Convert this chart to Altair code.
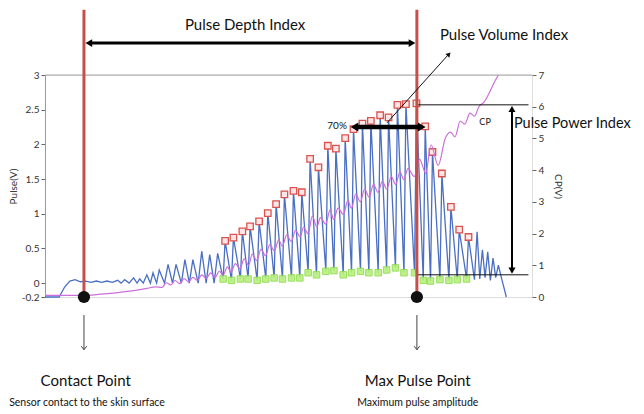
import altair as alt
import pandas as pd

FONT = "Lato"

# ---------------- data ----------------
# pulse waveform before detected beats (time s, pulse V)
early_t = [0.0, 1.6, 2.2, 2.8, 3.4, 4.0, 4.6, 5.2, 5.8, 6.4, 7.0, 7.6, 8.2, 8.6, 9.0, 9.5, 10.0, 10.4, 10.7, 11.1,
           11.5, 11.9, 12.2, 12.6, 12.9, 13.5, 13.9, 14.4, 14.8, 15.4, 15.8, 16.3, 16.7, 17.3, 17.7, 18.2, 18.6, 19.1, 19.5]
early_v = [-0.2, -0.2, -0.06, 0.03, 0.05, 0.02, 0.03, 0.01, 0.03, 0.01, 0.03, 0.01, 0.04, 0.0, 0.05, 0.0, 0.075, 0.0, 0.06, 0.0,
           0.12, 0.0, 0.15, 0.0, 0.19, 0.0, 0.27, 0.0, 0.27, 0.0, 0.34, 0.0, 0.34, 0.0, 0.46, 0.0, 0.41, 0.0, 0.43]

# detected beats: peaks (red squares) and troughs (green squares)
peak_t = [20.34, 21.28, 22.29, 23.16, 24.18, 25.16, 26.10, 27.04, 28.06, 29.00,
          29.94, 30.88, 31.94, 32.85, 33.90, 34.84, 35.85, 36.80, 37.85, 38.80,
          39.80, 40.76, 41.95, 42.94, 43.76, 44.82, 45.84, 46.78, 47.83]
peak_v = [0.61, 0.655, 0.745, 0.817, 0.889, 1.01, 1.14, 1.28, 1.33, 1.31,
          1.79, 1.67, 1.98, 1.94, 2.09, 2.22, 2.30, 2.34, 2.42, 2.39,
          2.57, 2.58, 2.59, 2.26, 1.89, 1.58, 1.10, 0.77, 0.665]
trough_t = [20.12, 21.06, 22.07, 22.94, 23.96, 24.94, 25.88, 26.82, 27.84, 28.78,
            29.72, 30.66, 31.72, 32.63, 33.68, 34.62, 35.63, 36.58, 37.63, 38.58,
            39.58, 40.54, 41.73, 42.72, 43.54, 44.60, 45.62, 46.56, 47.61]
trough_v = [0.06, 0.04, 0.06, 0.06, 0.04, 0.06, 0.075, 0.06, 0.075, 0.075,
            0.15, 0.12, 0.17, 0.18, 0.12, 0.15, 0.17, 0.15, 0.15, 0.19,
            0.22, 0.15, 0.15, 0.04, 0.03, 0.05, 0.04, 0.05, 0.06]

# waveform after the last detected beat
late_t = [48.5, 48.8, 49.1, 49.4, 49.7, 50.0, 50.3, 50.6, 50.9, 51.2, 51.6, 52.1]
late_v = [0.05, 0.74, 0.06, 0.48, 0.08, 0.45, 0.04, 0.36, 0.08, 0.26, 0.05, -0.2]

# contact pressure CP (V), right axis
cp_t = [0.0, 4.4, 6.0, 8.0, 10.0, 11.5, 12.5, 13.2, 13.7, 14.2, 14.7, 15.2, 15.7, 16.2, 16.7, 17.2, 17.7,
        18.2, 18.7, 19.2, 19.7, 20.1, 20.6, 21.0, 21.5, 22.0, 22.5, 23.0, 23.4, 23.9, 24.4, 24.9, 25.4, 25.9,
        26.4, 26.8, 27.3, 27.8, 28.3, 28.8, 29.2, 29.7, 30.2, 30.7, 31.1, 31.7, 32.2, 32.6, 33.1, 33.7, 34.2,
        34.6, 35.1, 35.6, 36.1, 36.6, 37.1, 37.6, 38.1, 38.6, 39.1, 39.6, 40.1, 40.5, 41.0, 41.7, 42.3, 43.0,
        43.6, 44.4, 45.2, 45.8, 46.3, 46.9, 47.4, 48.0, 48.5, 49.0, 49.6, 50.2, 50.8, 51.2]
cp_v = [0.05, 0.05, 0.08, 0.13, 0.2, 0.27, 0.32, 0.30, 0.45, 0.38, 0.52, 0.42, 0.58, 0.48, 0.62, 0.52, 0.70,
        0.58, 0.76, 0.62, 0.82, 0.68, 0.95, 0.78, 1.05, 0.9, 1.2, 1.0, 1.35, 1.15, 1.5, 1.3, 1.65, 1.45,
        1.8, 1.6, 1.95, 1.75, 2.1, 1.9, 2.2, 2.0, 2.55, 2.2, 2.5, 2.3, 2.75, 2.45, 2.8, 2.6, 3.05,
        2.8, 3.25, 3.0, 3.4, 3.15, 3.55, 3.3, 3.65, 3.4, 3.8, 3.55, 3.95, 3.7, 4.05, 3.8, 4.35, 3.9,
        4.8, 4.15, 5.0, 5.2, 5.05, 5.55, 5.45, 5.8, 5.7, 6.0, 6.15, 6.45, 6.8, 7.0]

# key events
event_t = [4.4, 42.0]          # contact point, max pulse point
level_v = [2.57, 0.12]         # max pulse level, baseline level
x_ticks = list(range(0, 56, 5))
y_ticks = [-0.2, 0, 0.5, 1, 1.5, 2, 2.5, 3]
cp_ticks = list(range(0, 8))

# ---------------- tables ----------------
beat_t, beat_v = [], []
for a, b, c, d in zip(trough_t, trough_v, peak_t, peak_v):
    beat_t += [a, c]
    beat_v += [b, d]
pulse_df = pd.DataFrame({"t": early_t + beat_t + late_t, "v": early_v + beat_v + late_v})
pulse_df["o"] = range(len(pulse_df))
peaks_df = pd.DataFrame({"t": peak_t, "v": peak_v})
troughs_df = pd.DataFrame({"t": trough_t, "v": trough_v})
cp_df = pd.DataFrame({"t": cp_t, "cp": cp_v})

xs = alt.Scale(domain=[0, 55], nice=False, zero=False)
ys = alt.Scale(domain=[-0.2, 3], nice=False, zero=False)
cps = alt.Scale(domain=[0, 7], nice=False, zero=False)

common = dict(grid=False, labelFont=FONT, labelFontSize=10, labelColor="#333", tickColor="#666",
              titleFont=FONT, titleFontSize=10, titleFontWeight="normal", titleColor="#333")
xaxis = alt.Axis(values=x_ticks, title="Time(s)", tickSize=5, labelPadding=2, domainColor="#9a9a9a",
                 titlePadding=9, **common)
yaxis = alt.Axis(values=y_ticks, title="Pulse(V)", orient="left", tickSize=4, labelPadding=2,
                 domainColor="#9a9a9a", titlePadding=3,
                 labelExpr="datum.value < 0 ? '-0.2' : format(datum.value, '~g')", **common)
cpaxis = alt.Axis(values=cp_ticks, title="CP(V)", orient="right", domain=False, tickSize=4,
                  labelPadding=2, titlePadding=9, **common)

X = alt.X("t:Q", scale=xs, axis=xaxis)
Y = alt.Y("v:Q", scale=ys, axis=yaxis)

pulse_line = alt.Chart(pulse_df).mark_line(color="#4a6fc4", strokeWidth=1.3).encode(x=X, y=Y, order="o:Q")
troughs = alt.Chart(troughs_df).mark_point(shape="square", size=42, filled=True, fill="#b9f07f",
                                           stroke="#8fdc4f", strokeWidth=1, opacity=0.9).encode(x=X, y=Y)
peaks = alt.Chart(peaks_df).mark_point(shape="square", size=42, filled=True, fill="#fde6e6",
                                       stroke="#d9534f", strokeWidth=1.3, opacity=1).encode(x=X, y=Y)
pulse_group = alt.layer(pulse_line, troughs, peaks)

cp_line = alt.Chart(cp_df).mark_line(color="#cc6fd9", strokeWidth=1.2, interpolate="monotone").encode(
    x=X, y=alt.Y("cp:Q", scale=cps, axis=cpaxis))

# ---------------- annotations (pulse scale) ----------------
AX = lambda f="t": alt.X(f + ":Q", scale=xs, axis=None)
AY = lambda f="v": alt.Y(f + ":Q", scale=ys, axis=None)

top_line = alt.Chart(pd.DataFrame({"t": [0], "t2": [55], "v": [3]})).mark_rule(
    color="#a8a8a8", strokeWidth=1).encode(x=AX(), x2="t2:Q", y=AY())

levels = alt.Chart(pd.DataFrame({"t": [42.0, 42.0], "t2": [54.6, 54.6], "v": level_v})).mark_rule(
    color="#111", strokeWidth=1).encode(x=AX(), x2="t2:Q", y=AY())

red_lines = alt.Chart(pd.DataFrame({"t": event_t, "v": [-0.2, -0.2], "v2": [3.94, 3.94]})).mark_rule(
    color="#c4504c", strokeWidth=3).encode(x=AX(), y=AY(), y2="v2:Q")

dots = alt.Chart(pd.DataFrame({"t": event_t, "v": [-0.2, -0.2]})).mark_circle(
    size=150, color="#111", opacity=1).encode(x=AX(), y=AY())

# double arrows: shafts
shafts = pd.DataFrame({
    "t": [5.0, 35.3, 52.74], "t2": [41.4, 42.3, 52.74],
    "v": [3.46, 2.25, 0.18], "v2": [3.46, 2.25, 2.51], "w": [3, 4.5, 2]})
shaft_marks = alt.Chart(shafts).mark_rule(color="#000").encode(
    x=AX(), x2="t2:Q", y=AY(), y2="v2:Q", strokeWidth=alt.StrokeWidth("w:Q", scale=None))

heads = pd.DataFrame({
    "t": [4.95, 41.45, 34.95, 42.55, 52.74, 52.74],
    "v": [3.46, 3.46, 2.25, 2.25, 2.51, 0.18],
    "s": ["triangle-left", "triangle-right", "triangle-left", "triangle-right", "triangle-up", "triangle-down"],
    "z": [60, 60, 80, 80, 50, 50]})
head_marks = alt.Chart(heads).mark_point(filled=True, color="#000", opacity=1, strokeWidth=0).encode(
    x=AX(), y=AY(), shape=alt.Shape("s:N", scale=None), size=alt.Size("z:Q", scale=None))

# pulse volume pointer
vol_line = alt.Chart(pd.DataFrame({"t": [38.62], "t2": [45.6], "v": [2.31], "v2": [3.30]})).mark_rule(
    color="#111", strokeWidth=1).encode(x=AX(), x2="t2:Q", y=AY(), y2="v2:Q")
vol_head = alt.Chart(pd.DataFrame({"t": [45.62], "v": [3.30]})).mark_point(
    shape="triangle-up", angle=42, size=28, filled=True, color="#111", opacity=1, strokeWidth=0).encode(
    x=AX(), y=AY())

# bottom pointers
down_lines = alt.Chart(pd.DataFrame({"t": event_t, "v": [-0.46, -0.46], "v2": [-0.96, -0.96]})).mark_rule(
    color="#444", strokeWidth=1).encode(x=AX(), y=AY(), y2="v2:Q")
down_heads = alt.Chart(pd.DataFrame({"t": event_t, "v": [-0.96, -0.96]})).mark_point(
    shape="M-1,-1.3L0,0L1,-1.3", size=30, filled=False, color="#444", strokeWidth=1, opacity=1).encode(
    x=AX(), y=AY())

texts = pd.DataFrame({
    "t": [22.6, 44.6, 34.1, 49.7, 52.96, 4.6, -4.05, 42.1, 42.1],
    "v": [3.72, 3.58, 2.27, 2.32, 2.29, -1.41, -1.73, -1.41, -1.73],
    "label": ["Pulse Depth Index", "Pulse Volume Index", "70%", "CP", "Pulse Power Index",
              "Contact Point", "Sensor contact to the skin surface", "Max Pulse Point",
              "Maximum pulse amplitude"],
    "align": ["center", "left", "right", "center", "left", "center", "left", "center", "center"],
    "fs": [15, 15, 10, 9, 14.5, 15, 10.5, 15, 10.5]})


def text_layer(align):
    d = texts[texts["align"] == align]
    return alt.Chart(d).mark_text(align=align, baseline="middle", font=FONT, color="#111").encode(
        x=AX(), y=AY(), text="label:N", size=alt.Size("fs:Q", scale=None))


annot_group = alt.layer(top_line, levels, red_lines, dots, shaft_marks, head_marks, vol_line, vol_head,
                        down_lines, down_heads, text_layer("center"), text_layer("left"), text_layer("right"))

chart = alt.layer(pulse_group, cp_line, annot_group).resolve_scale(y="independent").properties(
    width=487, height=222,
    autosize=alt.AutoSizeParams(type="none"),
    padding={"left": 37, "top": 67, "right": 104, "bottom": 114},
).configure_view(stroke=None).configure(background="white")

chart.save("out.html", embed_options={"renderer": "svg", "actions": False})
